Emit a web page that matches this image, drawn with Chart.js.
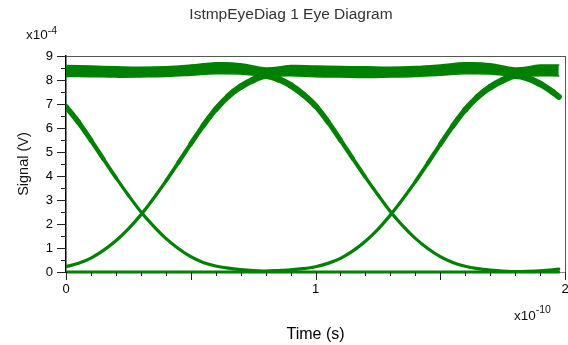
<!DOCTYPE html>
<html>
<head>
<meta charset="utf-8">
<script src="https://cdn.jsdelivr.net/npm/chart.js@4/dist/chart.umd.min.js"></script>
<style>
  html, body { margin: 0; padding: 0; background: #fff; }
  #c { display: block; }
</style>
</head>
<body>
<canvas id="c" width="568" height="345"></canvas>
<script>
const FONT = '"Liberation Sans", Arial, Helvetica, sans-serif';
const GREEN = 'rgb(0,128,0)';

const chartTitle = 'IstmpEyeDiag 1 Eye Diagram';
const xAxisTitle = 'Time (s)';
const yAxisTitle = 'Signal (V)';
const xExponent = '-10';
const yExponent = '-4';

// Tick labels (time in units of 1e-10 s, signal in units of 1e-4 V)
const xTickValues = [0, 1, 2];
const yTickValues = [0, 1, 2, 3, 4, 5, 6, 7, 8, 9];

// Sample times of the two edge traces
const edgeTime = [
  0, 0.05, 0.10, 0.15, 0.20, 0.25, 0.30, 0.35, 0.40, 0.45,
  0.50, 0.55, 0.60, 0.65, 0.70, 0.75, 0.80, 0.85, 0.90, 0.95,
  1.00, 1.05, 1.10, 1.15, 1.20, 1.25, 1.30, 1.35, 1.40, 1.45,
  1.50, 1.55, 1.60, 1.65, 1.70, 1.75, 1.80, 1.85, 1.90, 1.95, 1.975
];
// Trace rising in the first bit, falling in the second
const traceRiseFall = [
  0.22, 0.36, 0.58, 0.90, 1.30, 1.80, 2.38, 3.05, 3.78, 4.55,
  5.34, 6.10, 6.78, 7.32, 7.72, 8.00, 8.18, 8.04, 7.78, 7.40,
  6.92, 6.26, 5.50, 4.72, 3.95, 3.22, 2.52, 1.92, 1.40, 0.98,
  0.64, 0.40, 0.24, 0.14, 0.08, 0.04, 0.02, 0.03, 0.05, 0.09, 0.12
];
// Trace falling in the first bit, rising in the second
const traceFallRise = [
  6.89, 6.24, 5.49, 4.71, 3.93, 3.20, 2.51, 1.92, 1.40, 0.98,
  0.64, 0.40, 0.25, 0.16, 0.10, 0.06, 0.04, 0.06, 0.09, 0.14,
  0.22, 0.36, 0.57, 0.88, 1.28, 1.78, 2.37, 3.04, 3.76, 4.53,
  5.32, 6.08, 6.76, 7.30, 7.70, 7.99, 8.18, 8.08, 7.84, 7.50, 7.30
];

// Envelope of the steady high-level traces
const highTime = [
  0, 0.1, 0.2, 0.3, 0.4, 0.5, 0.6, 0.7, 0.8, 0.9,
  1.0, 1.1, 1.2, 1.3, 1.4, 1.5, 1.6, 1.7, 1.8, 1.9, 1.975
];
const highUpper = [
  8.60, 8.58, 8.55, 8.53, 8.55, 8.62, 8.72, 8.68, 8.50, 8.60,
  8.58, 8.56, 8.55, 8.53, 8.56, 8.63, 8.72, 8.68, 8.50, 8.62, 8.62
];
const highLower = [
  8.15, 8.14, 8.12, 8.13, 8.15, 8.20, 8.26, 8.25, 8.16, 8.18,
  8.14, 8.12, 8.10, 8.12, 8.15, 8.20, 8.26, 8.25, 8.16, 8.18, 8.17
];

// Steady low-level traces
const lowTime = [0, 1.975];
const lowLevel = [0, 0];

const pts = (xs, ys) => xs.map((x, i) => ({ x: x, y: ys[i] }));

// bundles of traces spread out as they approach the high level
const edgeWidth = ctx => {
  const m = (ctx.p0.parsed.y + ctx.p1.parsed.y) / 2;
  return 3.2 + 0.75 * Math.max(0, m - 3.5);
};

const lineBase = {
  borderColor: GREEN,
  pointRadius: 0,
  pointHoverRadius: 0,
  borderCapStyle: 'round',
  borderJoinStyle: 'round',
  clip: { left: 0, top: 10, right: 10, bottom: 10 }
};

const edgeStyle = Object.assign({}, lineBase, {
  borderWidth: 3.2,
  fill: false,
  cubicInterpolationMode: 'monotone',
  segment: { borderWidth: edgeWidth }
});

const frame = {
  id: 'frame',
  afterDraw(chart) {
    const { ctx, chartArea: a, scales: { x, y } } = chart;
    const seg = (x1, y1, x2, y2) => { ctx.beginPath(); ctx.moveTo(x1, y1); ctx.lineTo(x2, y2); ctx.stroke(); };
    ctx.save();
    // top and right frame edges
    ctx.strokeStyle = '#555';
    ctx.lineWidth = 1;
    seg(a.left, Math.round(a.top) + 0.5, Math.round(a.right) + 0.5, Math.round(a.top) + 0.5);
    seg(Math.round(a.right) + 0.5, a.top, Math.round(a.right) + 0.5, a.bottom);

    // y ticks: major every unit, minor every half unit
    ctx.strokeStyle = '#222';
    for (let i = 0; i <= 18; i++) {
      const py = Math.round(y.getPixelForValue(i / 2)) + 0.5;
      const len = i % 2 === 0 ? 9 : 5;
      seg(a.left - len, py, a.left, py);
    }
    // x ticks: major every half unit, minor every tenth
    for (let i = 0; i <= 20; i++) {
      const px = Math.round(x.getPixelForValue(i / 10)) + 0.5;
      const len = i % 5 === 0 ? 8 : 4;
      seg(px, a.bottom, px, a.bottom + len);
    }

    // chart title
    ctx.fillStyle = '#333';
    ctx.font = '15.5px ' + FONT;
    ctx.textAlign = 'center';
    ctx.textBaseline = 'alphabetic';
    ctx.fillText(chartTitle, 291, 18.5);

    // axis multipliers
    const expo = (left, base, sup, baseY, supY) => {
      ctx.textAlign = 'left';
      ctx.font = '13.5px ' + FONT;
      ctx.fillStyle = '#111';
      ctx.fillText(base, left, baseY);
      const w = ctx.measureText(base).width;
      ctx.font = '10.5px ' + FONT;
      ctx.fillText(sup, left + w, supY);
    };
    expo(26, 'x10', yExponent, 38.5, 33.5);
    expo(514, 'x10', xExponent, 320, 313);
    ctx.restore();
  }
};

new Chart(document.getElementById('c'), {
  type: 'line',
  data: {
    datasets: [
      Object.assign({}, lineBase, { data: pts(highTime, highUpper), borderWidth: 1.5, fill: false, tension: 0.4 }),
      Object.assign({}, lineBase, { data: pts(highTime, highLower), borderWidth: 1.5, fill: '-1', backgroundColor: GREEN, tension: 0.4 }),
      Object.assign({}, lineBase, { data: pts(lowTime, lowLevel), borderWidth: 3, fill: false }),
      Object.assign({}, edgeStyle, { data: pts(edgeTime, traceRiseFall) }),
      Object.assign({}, edgeStyle, { data: pts(edgeTime, traceFallRise) })
    ]
  },
  options: {
    responsive: false,
    devicePixelRatio: 1,
    animation: false,
    events: [],
    layout: { padding: { left: 0, right: 3, top: 56, bottom: 0 } },
    plugins: { legend: { display: false }, tooltip: { enabled: false }, title: { display: false } },
    scales: {
      x: {
        type: 'linear',
        min: 0,
        max: 2,
        afterBuildTicks: s => { s.ticks = xTickValues.map(v => ({ value: v })); },
        grid: { display: false, drawTicks: false },
        border: { display: true, color: '#8a8a8a', width: 1 },
        ticks: { padding: 10, color: '#000', font: { family: FONT, size: 13 }, maxRotation: 0, autoSkip: false },
        title: { display: true, text: xAxisTitle, color: '#000', font: { family: FONT, size: 16 }, padding: { top: 0, bottom: 1 } },
        afterFit: s => { s.height = 73; s.paddingLeft = 0; s.paddingRight = 0; }
      },
      y: {
        type: 'linear',
        min: 0,
        max: 9,
        afterBuildTicks: s => { s.ticks = yTickValues.map(v => ({ value: v })); },
        grid: { display: false, drawTicks: false },
        border: { display: true, color: '#000', width: 1.5 },
        ticks: { padding: 13, color: '#000', font: { family: FONT, size: 13 }, autoSkip: false },
        title: { display: true, text: yAxisTitle, color: '#111', font: { family: FONT, size: 14.5 }, padding: { top: 15, bottom: 0 } },
        afterFit: s => { s.width = 66; s.paddingTop = 0; s.paddingBottom = 0; }
      }
    }
  },
  plugins: [frame]
});
</script>
</body>
</html>
